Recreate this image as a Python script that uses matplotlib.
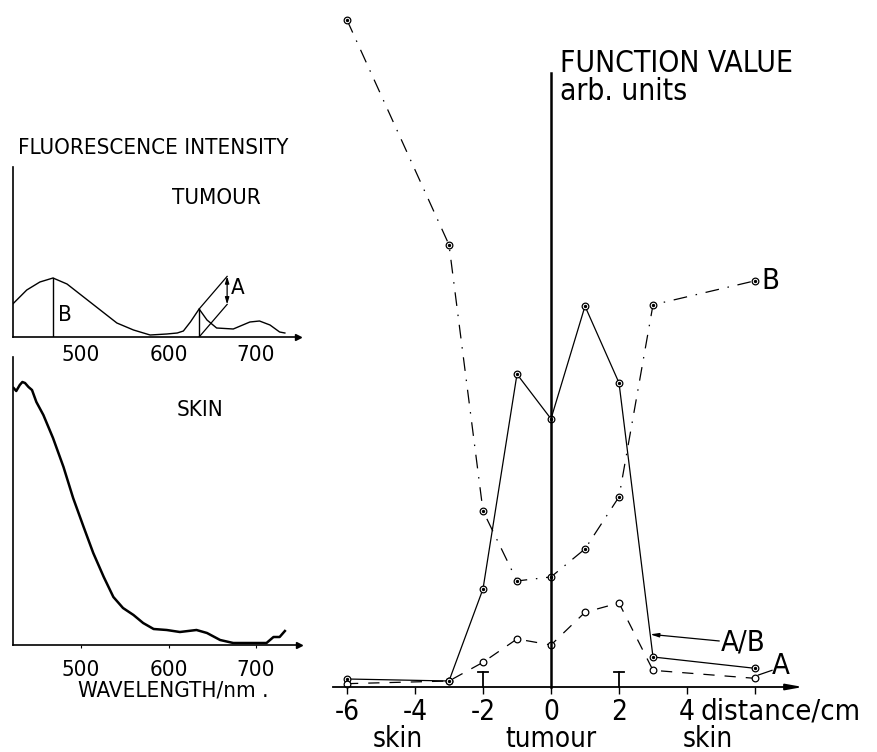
import matplotlib
matplotlib.use("Agg")
import matplotlib.pyplot as plt
from matplotlib import font_manager as fm
import numpy as np

# ---------------- data ----------------
# Right panel: function values along a line across the lesion (arb. units)
distance_cm = [-6, -3, -2, -1, 0, 1, 2, 3, 6]
func_B = [10.0, 6.63, 2.64, 1.59, 1.65, 2.07, 2.85, 5.73, 6.09]
func_AB = [0.12, 0.09, 1.47, 4.69, 4.02, 5.71, 4.56, 0.45, 0.28]
func_A = [0.05, 0.09, 0.37, 0.72, 0.63, 1.12, 1.26, 0.25, 0.13]
dist_ticks = [-6, -4, -2, 0, 2, 4, 6]
dist_ticklabels = ["-6", "-4", "-2", "0", "2", "4", ""]
tumour_edges = [-2, 2]
region_labels = ["skin", "tumour", "skin"]
region_centres = [-4.5, 0.0, 4.6]

# Left panels: fluorescence spectra (arb. units)
tumour_nm = [422, 438, 453, 468, 484, 503, 522, 541, 560, 579, 598, 610,
             617, 625, 635, 644, 655, 674, 693, 704, 716, 727, 733]
tumour_I = [1.65, 2.35, 2.75, 2.95, 2.65, 2.00, 1.35, 0.70, 0.35, 0.10, 0.15,
            0.20, 0.30, 0.75, 1.40, 0.85, 0.45, 0.40, 0.75, 0.80, 0.60, 0.25, 0.20]
skin_nm = [423, 426, 430, 433, 436, 440, 444, 449, 457, 468, 480, 491, 503,
           514, 526, 537, 548, 560, 571, 583, 598, 613, 632, 644, 659, 674,
           697, 712, 720, 727, 733]
skin_I = [12.85, 12.70, 13.00, 13.15, 13.10, 12.90, 12.75, 12.15, 11.50,
          10.35, 8.90, 7.35, 5.90, 4.60, 3.40, 2.40, 1.85, 1.50, 1.10, 0.80,
          0.75, 0.65, 0.75, 0.60, 0.25, 0.10, 0.10, 0.10, 0.40, 0.40, 0.70]
wl_ticks = [500, 600, 700]
B_peak_nm = 468
A_peak_nm = 635

# ---------------- fonts ----------------
plt.rcParams["font.family"] = ["DejaVu Sans"]
have_cond = any(f.name == "DejaVu Sans" and f.stretch in ("condensed", "semi-condensed")
                for f in fm.fontManager.ttflist)
if have_cond:
    plt.rcParams["font.stretch"] = "condensed"
plt.rcParams["axes.unicode_minus"] = False

W, H = 877, 752
fig = plt.figure(figsize=(W / 100, H / 100), dpi=100)


def rect(x0, y0, x1, y1):
    return [x0 / W, 1 - y1 / H, (x1 - x0) / W, (y1 - y0) / H]


# ================= right panel =================
X0, PXCM = 551.0, 34.0
Y0, PXU = 687.0, 66.7
axr = fig.add_axes(rect(330, 0, 877, 752))
axr.set_xlim((330 - X0) / PXCM, (877 - X0) / PXCM)
axr.set_ylim((Y0 - 752) / PXU, Y0 / PXU)
axr.patch.set_alpha(0)
for s in ("top", "right"):
    axr.spines[s].set_visible(False)
axr.spines["bottom"].set_position(("data", 0))
axr.spines["left"].set_position(("data", 0))
xa0, xa1 = (333 - X0) / PXCM, (796 - X0) / PXCM
axr.spines["bottom"].set_bounds(xa0, xa1)
axr.spines["left"].set_bounds(0, (Y0 - 73) / PXU)
axr.spines["bottom"].set_linewidth(1.3)
axr.spines["left"].set_linewidth(1.8)
axr.annotate("", xy=((803 - X0) / PXCM, 0), xytext=(xa1 - 0.3, 0),
             arrowprops=dict(arrowstyle="-|>,head_length=1.0,head_width=0.18",
                             lw=1.3, color="k", shrinkA=0, shrinkB=0))
axr.set_xticks(dist_ticks)
axr.set_xticklabels(dist_ticklabels)
axr.set_yticks([])
axr.tick_params(axis="x", direction="out", length=5, width=1.0, pad=3,
                labelsize=20)

mk = dict(marker="o", ms=4.8, mfc="white", mec="k", mew=0.9)
axr.plot(distance_cm, func_B, color="k", lw=0.9, ls=(0, (11, 7, 1.2, 7)), **mk)
axr.plot(distance_cm, func_AB, color="k", lw=0.9, ls="-", **mk)
axr.plot(distance_cm, func_A, color="k", lw=0.9, ls=(0, (9, 8)), **mk)
for ys in (func_B, func_AB):
    axr.plot(distance_cm, ys, ls="none", marker="o", ms=1.4, color="k")

# tumour boundary marks
tb_h = (Y0 - 672) / PXU
for e in tumour_edges:
    axr.plot([e, e], [0, tb_h], color="k", lw=1.3)
    axr.plot([e - 0.15, e + 0.15], [tb_h, tb_h], color="k", lw=1.3)

axr.text((560 - X0) / PXCM, (Y0 - 72) / PXU, "FUNCTION VALUE", fontsize=21.5,
         ha="left", va="baseline")
axr.text((560 - X0) / PXCM, (Y0 - 100) / PXU, "arb. units", fontsize=21.5,
         ha="left", va="baseline")
axr.text((700 - X0) / PXCM, (Y0 - 711) / PXU, "distance/cm", fontsize=21,
         ha="left", va="center")
for lab, c in zip(region_labels, region_centres):
    axr.text(c, (Y0 - 739) / PXU, lab, fontsize=20, ha="center", va="center")

# series labels
axr.text(distance_cm[-1] + 0.18, func_B[-1], "B", fontsize=21, ha="left", va="center")
axr.text(distance_cm[-1] + 0.5, func_A[-1] + 0.18, "A", fontsize=21, ha="left",
         va="center")
axr.plot([distance_cm[-1] + 0.1, distance_cm[-1] + 0.5],
         [func_A[-1] + 0.05, func_A[-1] + 0.12], color="k", lw=0.9)
lv = 0.79
tip_x = np.interp(lv, [func_AB[7], func_AB[6]], [distance_cm[7], distance_cm[6]])
axr.text(5.0, 0.66, "A/B", fontsize=21, ha="left", va="center")
axr.annotate("", xy=(tip_x, lv), xytext=(4.95, 0.69),
             arrowprops=dict(arrowstyle="-|>,head_length=0.5,head_width=0.12",
                             lw=0.9, color="k", shrinkA=0, shrinkB=0))

# ================= left panels =================
NM0, PXNM = 81.0, 0.875


def nm_at(px):
    return 500 + (px - NM0) / PXNM


def spectrum_axes(px0, px1, ytop, ybase, scale=20.0):
    ax = fig.add_axes(rect(px0, ytop, px1, ybase))
    ax.set_xlim(nm_at(px0), nm_at(px1))
    ax.set_ylim(0, (ybase - ytop) / scale)
    ax.patch.set_alpha(0)
    for s in ("top", "right"):
        ax.spines[s].set_visible(False)
    for s in ("left", "bottom"):
        ax.spines[s].set_linewidth(1.2)
    ax.plot(1, 0, ">k", ms=5, transform=ax.get_yaxis_transform(), clip_on=False)
    ax.plot(0, 1, "^k", ms=5, transform=ax.get_xaxis_transform(), clip_on=False)
    ax.set_yticks([])
    ax.set_xticks(wl_ticks)
    ax.set_xticklabels([str(t) for t in wl_ticks])
    return ax


# tumour spectrum
axt = spectrum_axes(12.5, 298, 167, 337)
axt.tick_params(axis="x", length=0, pad=6, labelsize=16)
axt.plot(tumour_nm, tumour_I, color="k", lw=1.0)
bh = np.interp(B_peak_nm, tumour_nm, tumour_I)
axt.plot([B_peak_nm, B_peak_nm], [0, bh], color="k", lw=1.0)
axt.text(482, 1.1, "B", fontsize=16, ha="center", va="center")
ah = np.interp(A_peak_nm, tumour_nm, tumour_I)
dx, dy = 32, 1.63
axt.plot([A_peak_nm, A_peak_nm], [0, ah], color="k", lw=1.0)
axt.plot([A_peak_nm, A_peak_nm + dx], [ah, ah + dy], color="k", lw=0.9)
axt.plot([A_peak_nm, A_peak_nm + dx], [0, dy], color="k", lw=0.9)
axt.annotate("", xy=(A_peak_nm + dx, ah + dy), xytext=(A_peak_nm + dx, dy),
             arrowprops=dict(arrowstyle="<|-|>,head_length=0.4,head_width=0.12",
                             lw=0.9, color="k", shrinkA=0, shrinkB=0))
axt.text(A_peak_nm + dx + 4, dy + ah * 0.6, "A", fontsize=16, ha="left",
         va="center")
axt.text(582, (337 - 148) / 20, "FLUORESCENCE INTENSITY", fontsize=16,
         ha="center", va="center", clip_on=False)
axt.text(655, (337 - 198) / 20, "TUMOUR", fontsize=16, ha="center", va="center")

# skin spectrum
axs = spectrum_axes(13, 299, 357, 645)
axs.tick_params(axis="x", length=2, pad=9, labelsize=16)
axs.plot(skin_nm, skin_I, color="k", lw=1.8)
axs.text(636, (645 - 410) / 20, "SKIN", fontsize=16, ha="center", va="center")
axs.text(605, (645 - 690) / 20, "WAVELENGTH/nm .", fontsize=16, ha="center",
         va="center", clip_on=False)

fig.savefig("out.png", dpi=100)
